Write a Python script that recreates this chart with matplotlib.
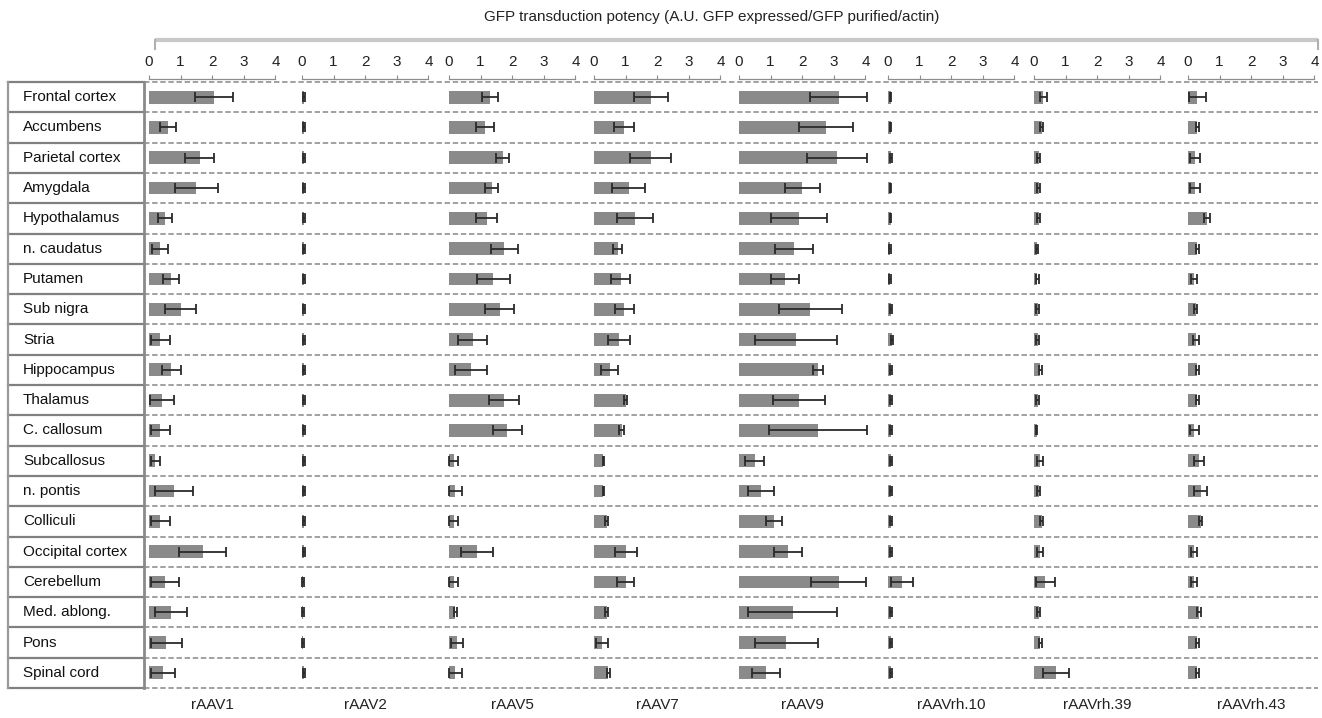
import matplotlib
matplotlib.use("Agg")
import matplotlib.pyplot as plt
import numpy as np

plt.rcParams['font.family'] = ['Liberation Sans', 'DejaVu Sans']

regions = ["Frontal cortex", "Accumbens", "Parietal cortex", "Amygdala", "Hypothalamus",
           "n. caudatus", "Putamen", "Sub nigra", "Stria", "Hippocampus", "Thalamus",
           "C. callosum", "Subcallosus", "n. pontis", "Colliculi", "Occipital cortex",
           "Cerebellum", "Med. ablong.", "Pons", "Spinal cord"]

serotypes = ["rAAV1", "rAAV2", "rAAV5", "rAAV7", "rAAV9", "rAAVrh.10", "rAAVrh.39", "rAAVrh.43"]
tick_values = [0, 1, 2, 3, 4]
title = "GFP transduction potency (A.U. GFP expressed/GFP purified/actin)"

rAAV1_mean = [2.05, 0.6, 1.6, 1.5, 0.5, 0.35, 0.7, 1.0, 0.35, 0.7, 0.4, 0.35, 0.2, 0.8, 0.35, 1.7, 0.5, 0.7, 0.55, 0.45]
rAAV1_err = [0.6, 0.25, 0.47, 0.68, 0.22, 0.25, 0.25, 0.5, 0.3, 0.3, 0.38, 0.3, 0.15, 0.6, 0.3, 0.75, 0.45, 0.5, 0.5, 0.38]

rAAV2_mean = [0.07, 0.07, 0.07, 0.07, 0.07, 0.06, 0.06, 0.07, 0.06, 0.06, 0.07, 0.07, 0.07, 0.07, 0.07, 0.06, 0.03, 0.03, 0.03, 0.06]
rAAV2_err = [0.03, 0.03, 0.03, 0.03, 0.03, 0.03, 0.03, 0.03, 0.03, 0.03, 0.03, 0.03, 0.03, 0.03, 0.03, 0.03, 0.02, 0.02, 0.02, 0.03]

rAAV5_mean = [1.3, 1.15, 1.7, 1.35, 1.2, 1.75, 1.4, 1.6, 0.75, 0.7, 1.75, 1.85, 0.15, 0.2, 0.15, 0.88, 0.15, 0.2, 0.25, 0.2]
rAAV5_err = [0.25, 0.28, 0.2, 0.2, 0.33, 0.42, 0.52, 0.47, 0.45, 0.5, 0.47, 0.45, 0.15, 0.2, 0.15, 0.5, 0.15, 0.05, 0.2, 0.2]

rAAV7_mean = [1.8, 0.95, 1.8, 1.1, 1.3, 0.75, 0.85, 0.95, 0.8, 0.5, 1.0, 0.88, 0.3, 0.3, 0.4, 1.0, 1.0, 0.4, 0.25, 0.45]
rAAV7_err = [0.55, 0.33, 0.65, 0.52, 0.57, 0.15, 0.3, 0.3, 0.35, 0.27, 0.05, 0.08, 0.03, 0.03, 0.05, 0.35, 0.28, 0.05, 0.2, 0.05]

rAAV9_mean = [3.15, 2.75, 3.1, 2.0, 1.9, 1.75, 1.45, 2.25, 1.8, 2.5, 1.9, 2.5, 0.5, 0.7, 1.1, 1.55, 3.15, 1.7, 1.5, 0.85]
rAAV9_err = [0.9, 0.85, 0.95, 0.55, 0.9, 0.6, 0.45, 1.0, 1.3, 0.15, 0.82, 1.55, 0.3, 0.4, 0.25, 0.45, 0.88, 1.4, 1.0, 0.45]

rh10_mean = [0.08, 0.08, 0.1, 0.08, 0.08, 0.06, 0.06, 0.1, 0.12, 0.1, 0.1, 0.1, 0.1, 0.1, 0.1, 0.1, 0.45, 0.1, 0.1, 0.1]
rh10_err = [0.03, 0.03, 0.04, 0.03, 0.03, 0.03, 0.03, 0.04, 0.04, 0.04, 0.04, 0.04, 0.04, 0.04, 0.04, 0.04, 0.35, 0.04, 0.04, 0.03]

rh39_mean = [0.3, 0.25, 0.15, 0.15, 0.15, 0.1, 0.1, 0.12, 0.12, 0.2, 0.12, 0.08, 0.2, 0.15, 0.25, 0.2, 0.35, 0.15, 0.2, 0.7]
rh39_err = [0.1, 0.05, 0.05, 0.05, 0.05, 0.03, 0.05, 0.05, 0.05, 0.05, 0.05, 0.03, 0.1, 0.05, 0.05, 0.1, 0.3, 0.05, 0.05, 0.4]

rh43_mean = [0.3, 0.3, 0.22, 0.22, 0.6, 0.3, 0.2, 0.25, 0.25, 0.3, 0.3, 0.2, 0.35, 0.4, 0.4, 0.2, 0.2, 0.35, 0.3, 0.3]
rh43_err = [0.27, 0.05, 0.15, 0.15, 0.1, 0.05, 0.1, 0.05, 0.1, 0.05, 0.05, 0.15, 0.15, 0.2, 0.05, 0.1, 0.1, 0.05, 0.05, 0.05]

means = [rAAV1_mean, rAAV2_mean, rAAV5_mean, rAAV7_mean, rAAV9_mean, rh10_mean, rh39_mean, rh43_mean]
errs = [rAAV1_err, rAAV2_err, rAAV5_err, rAAV7_err, rAAV9_err, rh10_err, rh39_err, rh43_err]

# ---- layout (pixels) ----
W, H = 1322, 718
panel_zero_px = [149, 302, 449, 594, 739, 888, 1034, 1188]
unit_px = 31.6
top_px, bot_px = 82, 688
label_left, label_right = 8, 144
right_edge = 1318
FS = 11

fig = plt.figure(figsize=(W / 100, H / 100), dpi=100)


def rect(x0, y0, x1, y1):
    return [x0 / W, 1 - y1 / H, (x1 - x0) / W, (y1 - y0) / H]


# overlay for decorations in pixel coords
ov = fig.add_axes([0, 0, 1, 1], zorder=0)
ov.set_xlim(0, W)
ov.set_ylim(H, 0)
ov.axis('off')
ov.patch.set_alpha(0)

n = len(regions)
row_h = (bot_px - top_px) / n

# title and top bracket
ov.text(712, 17, title, ha='center', va='center', fontsize=FS, color='#222222')
ov.plot([155, right_edge], [40, 40], color='#c8c8c8', lw=3, solid_capstyle='butt')
ov.plot([155, 155], [40, 49], color='#b0b0b0', lw=1.5)
ov.plot([right_edge, right_edge], [40, 49], color='#b0b0b0', lw=1.5)

# row lines
for i in range(n + 1):
    y = top_px + i * row_h
    ov.plot([label_left, label_right], [y, y], color='#808080', lw=1.6)
    ov.plot([label_right, right_edge], [y, y], color='#9a9a9a', lw=1.3, ls=(0, (3, 1.5)))
ov.plot([label_left, label_left], [top_px, bot_px], color='#9a9a9a', lw=1.6)
ov.plot([label_right, label_right], [top_px, bot_px], color='#8a8a8a', lw=2)

for i, r in enumerate(regions):
    ov.text(label_left + 15, top_px + (i + 0.5) * row_h, r, ha='left', va='center',
            fontsize=FS, color='#111111')

# panels
for k, name in enumerate(serotypes):
    z = panel_zero_px[k]
    ax = fig.add_axes(rect(z, top_px, z + 4 * unit_px, bot_px), zorder=2)
    ax.patch.set_alpha(0)
    ax.set_xlim(0, 4)
    ax.set_ylim(n, 0)
    y = np.arange(n) + 0.5
    ax.barh(y, means[k], height=0.42, color='#8a8a8a', edgecolor='none',
            xerr=errs[k], error_kw=dict(ecolor='#2a2a2a', elinewidth=1.3,
                                       capsize=3.5, capthick=1.3))
    for art in ax.get_children():
        try:
            art.set_clip_on(False)
        except Exception:
            pass
    for s in ['left', 'right', 'bottom']:
        ax.spines[s].set_visible(False)
    ax.spines['top'].set_color('#8c8c8c')
    ax.spines['top'].set_linewidth(0.9)
    ax.spines['top'].set_position(('outward', 2))
    ax.xaxis.tick_top()
    ax.set_xticks(tick_values)
    ax.set_xticklabels([str(t) for t in tick_values])
    ax.tick_params(axis='x', direction='out', length=3, width=0.8, color='#8c8c8c',
                   pad=4, labelsize=FS, labelcolor='#222222')
    ax.set_yticks([])
    ax.text(2, n + 0.56, name, ha='center', va='center', fontsize=FS, color='#222222')

fig.savefig("out.png", dpi=100)
